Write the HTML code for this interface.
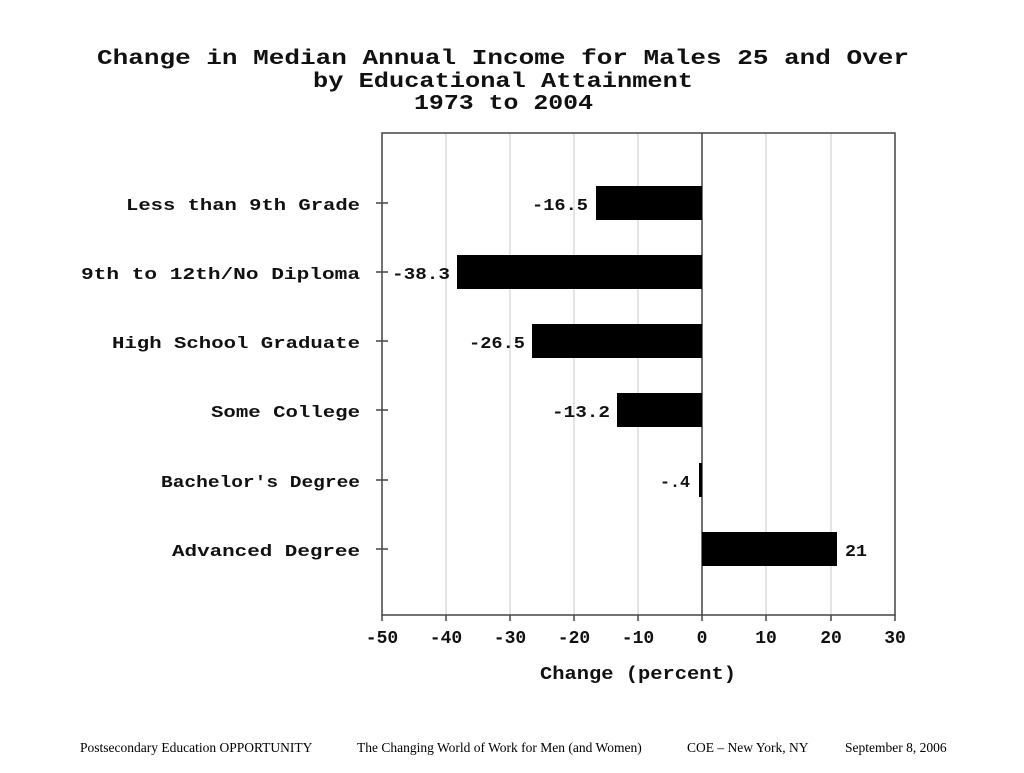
<!DOCTYPE html>
<html><head><meta charset="utf-8"><style>
body{margin:0;background:#fff;width:1024px;height:768px;overflow:hidden}
svg text.m{font-family:"Liberation Mono",monospace;font-weight:bold;fill:#111}
svg text.f{font-family:"Liberation Serif",serif;font-size:13.5px;fill:#000}
</style></head><body>
<svg width="1024" height="768" xmlns="http://www.w3.org/2000/svg">
<g font-size="21">
<text class="m" x="97" y="64" textLength="812" lengthAdjust="spacingAndGlyphs">Change in Median Annual Income for Males 25 and Over</text>
<text class="m" x="313" y="87" textLength="380" lengthAdjust="spacingAndGlyphs">by Educational Attainment</text>
<text class="m" x="414" y="109" textLength="179" lengthAdjust="spacingAndGlyphs">1973 to 2004</text>
</g>
<g stroke="#c8c8c8" stroke-width="1">
<line x1="446" y1="133" x2="446" y2="615"/><line x1="510" y1="133" x2="510" y2="615"/>
<line x1="574" y1="133" x2="574" y2="615"/><line x1="638" y1="133" x2="638" y2="615"/>
<line x1="766" y1="133" x2="766" y2="615"/><line x1="831" y1="133" x2="831" y2="615"/>
</g>
<rect x="382" y="133" width="513" height="482" fill="none" stroke="#444" stroke-width="1.5"/>
<line x1="702" y1="133" x2="702" y2="615" stroke="#444" stroke-width="1.5"/>
<g stroke="#444" stroke-width="1.5">
<line x1="376" y1="203" x2="388" y2="203"/><line x1="376" y1="272" x2="388" y2="272"/>
<line x1="376" y1="341" x2="388" y2="341"/><line x1="376" y1="410" x2="388" y2="410"/>
<line x1="376" y1="480" x2="388" y2="480"/><line x1="376" y1="549" x2="388" y2="549"/>
<line x1="382" y1="615" x2="382" y2="621"/><line x1="446" y1="615" x2="446" y2="621"/>
<line x1="510" y1="615" x2="510" y2="621"/><line x1="574" y1="615" x2="574" y2="621"/>
<line x1="638" y1="615" x2="638" y2="621"/><line x1="702" y1="615" x2="702" y2="621"/>
<line x1="766" y1="615" x2="766" y2="621"/><line x1="831" y1="615" x2="831" y2="621"/>
<line x1="895" y1="615" x2="895" y2="621"/>
</g>
<g fill="#000">
<rect x="596" y="186" width="106" height="34"/>
<rect x="457" y="255" width="245" height="34"/>
<rect x="532" y="324" width="170" height="34"/>
<rect x="617" y="393" width="85" height="34"/>
<rect x="699" y="463" width="3" height="34"/>
<rect x="702" y="532" width="135" height="34"/>
</g>
<g font-size="17">
<text class="m" x="126" y="210" textLength="234" lengthAdjust="spacingAndGlyphs">Less than 9th Grade</text>
<text class="m" x="81" y="279" textLength="279" lengthAdjust="spacingAndGlyphs">9th to 12th/No Diploma</text>
<text class="m" x="112" y="348" textLength="248" lengthAdjust="spacingAndGlyphs">High School Graduate</text>
<text class="m" x="211" y="417" textLength="149" lengthAdjust="spacingAndGlyphs">Some College</text>
<text class="m" x="161" y="487" textLength="199" lengthAdjust="spacingAndGlyphs">Bachelor's Degree</text>
<text class="m" x="172" y="556" textLength="188" lengthAdjust="spacingAndGlyphs">Advanced Degree</text>
<text class="m" x="532" y="210" textLength="56" lengthAdjust="spacingAndGlyphs">-16.5</text>
<text class="m" x="392" y="279" textLength="58" lengthAdjust="spacingAndGlyphs">-38.3</text>
<text class="m" x="469" y="348" textLength="56" lengthAdjust="spacingAndGlyphs">-26.5</text>
<text class="m" x="552" y="417" textLength="58" lengthAdjust="spacingAndGlyphs">-13.2</text>
<text class="m" x="660" y="487" textLength="30" lengthAdjust="spacingAndGlyphs">-.4</text>
<text class="m" x="845" y="556" textLength="22" lengthAdjust="spacingAndGlyphs">21</text>
</g>
<g font-size="18" text-anchor="middle">
<text class="m" x="382" y="643">-50</text><text class="m" x="446" y="643">-40</text><text class="m" x="510" y="643">-30</text>
<text class="m" x="574" y="643">-20</text><text class="m" x="638" y="643">-10</text><text class="m" x="702" y="643">0</text>
<text class="m" x="766" y="643">10</text><text class="m" x="831" y="643">20</text><text class="m" x="895" y="643">30</text>
</g>
<text class="m" font-size="18" x="540" y="679" textLength="196" lengthAdjust="spacingAndGlyphs">Change (percent)</text>
<text class="f" x="80" y="752">Postsecondary Education OPPORTUNITY</text>
<text class="f" x="357" y="752">The Changing World of Work for Men (and Women)</text>
<text class="f" x="687" y="752">COE – New York, NY</text>
<text class="f" x="845" y="752">September 8, 2006</text>
</svg>
</body></html>
